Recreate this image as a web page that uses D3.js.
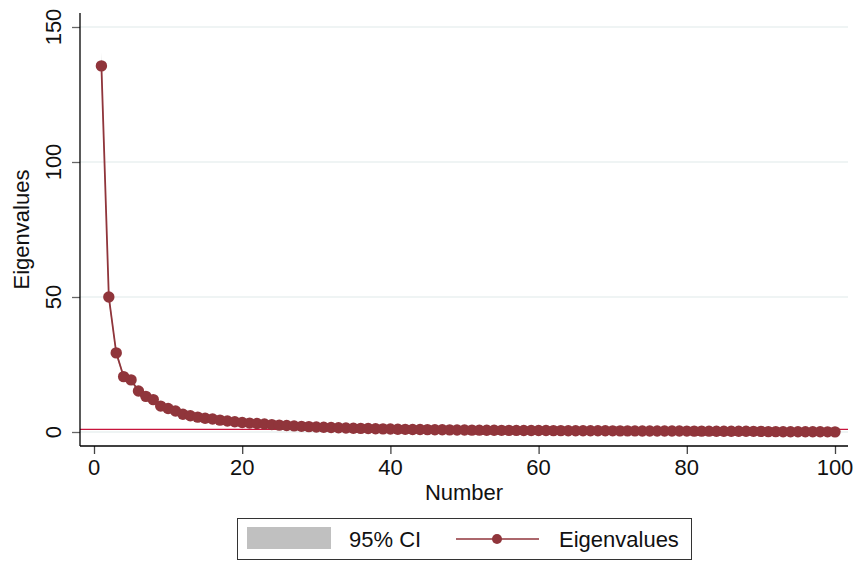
<!DOCTYPE html>
<html>
<head>
<meta charset="utf-8">
<script src="https://cdn.jsdelivr.net/npm/d3@7"></script>
<style>
  html, body { margin: 0; padding: 0; background: #fff; }
  svg { display: block; font-family: "Liberation Sans", Arial, sans-serif; }
</style>
</head>
<body>
<svg id="chart" width="858" height="563"></svg>
<script>
// Scree plot: eigenvalues by component number, with 95% CI band
const eigenvalues = [
  135.6, 50.0, 29.3, 20.5, 19.3, 15.2, 13.2, 12.0, 9.6, 8.7,
  7.8, 6.6, 6.0, 5.5, 5.1, 4.8, 4.4, 4.1, 3.8, 3.5,
  3.3, 3.15, 2.95, 2.75, 2.55, 2.4, 2.25, 2.1, 1.98, 1.86,
  1.76, 1.66, 1.57, 1.49, 1.41, 1.34, 1.27, 1.21, 1.15, 1.09,
  1.04, 0.99, 0.95, 0.91, 0.87, 0.84, 0.81, 0.78, 0.75, 0.72,
  0.70, 0.68, 0.66, 0.64, 0.62, 0.60, 0.59, 0.57, 0.56, 0.54,
  0.53, 0.52, 0.50, 0.49, 0.48, 0.47, 0.46, 0.45, 0.44, 0.43,
  0.42, 0.41, 0.40, 0.39, 0.38, 0.37, 0.36, 0.36, 0.35, 0.34,
  0.33, 0.32, 0.31, 0.30, 0.29, 0.28, 0.27, 0.26, 0.25, 0.24,
  0.14, 0.13, 0.12, 0.11, 0.10, 0.09, 0.08, 0.07, 0.06, 0.05
];
const ciHigh = [
  140.70, 51.88, 30.40, 21.27, 20.03, 15.77, 13.70, 12.45, 9.96, 9.03,
  8.09, 6.85, 6.23, 5.71, 5.29, 4.98, 4.57, 4.25, 3.94, 3.63,
  3.42, 3.27, 3.06, 2.85, 2.65, 2.49, 2.33, 2.18, 2.05, 1.93,
  1.83, 1.72, 1.63, 1.55, 1.46, 1.39, 1.32, 1.26, 1.19, 1.13,
  1.08, 1.03, 0.99, 0.94, 0.90, 0.87, 0.84, 0.81, 0.78, 0.75,
  0.73, 0.71, 0.68, 0.66, 0.64, 0.62, 0.61, 0.59, 0.58, 0.56,
  0.55, 0.54, 0.52, 0.51, 0.50, 0.49, 0.48, 0.47, 0.46, 0.45,
  0.44, 0.43, 0.42, 0.40, 0.39, 0.38, 0.37, 0.37, 0.36, 0.35,
  0.34, 0.33, 0.32, 0.31, 0.30, 0.29, 0.28, 0.27, 0.26, 0.25,
  0.15, 0.13, 0.12, 0.11, 0.10, 0.09, 0.08, 0.07, 0.06, 0.05
];
const ciLow = [
  130.85, 48.25, 28.27, 19.78, 18.62, 14.67, 12.74, 11.58, 9.26, 8.40,
  7.53, 6.37, 5.79, 5.31, 4.92, 4.63, 4.25, 3.96, 3.67, 3.38,
  3.18, 3.04, 2.85, 2.65, 2.46, 2.32, 2.17, 2.03, 1.91, 1.79,
  1.70, 1.60, 1.52, 1.44, 1.36, 1.29, 1.23, 1.17, 1.11, 1.05,
  1.00, 0.96, 0.92, 0.88, 0.84, 0.81, 0.78, 0.75, 0.72, 0.69,
  0.68, 0.66, 0.64, 0.62, 0.60, 0.58, 0.57, 0.55, 0.54, 0.52,
  0.51, 0.50, 0.48, 0.47, 0.46, 0.45, 0.44, 0.43, 0.42, 0.41,
  0.41, 0.40, 0.39, 0.38, 0.37, 0.36, 0.35, 0.35, 0.34, 0.33,
  0.32, 0.31, 0.30, 0.29, 0.28, 0.27, 0.26, 0.25, 0.24, 0.23,
  0.14, 0.13, 0.12, 0.11, 0.10, 0.09, 0.08, 0.07, 0.06, 0.05
];
const xTicks = [0, 20, 40, 60, 80, 100];
const yTicks = [0, 50, 100, 150];
const refValue = 1;
const legendLabels = ["95% CI", "Eigenvalues"];

const colSeries = "#90353b";
const colCI = "#c0c0c0";
const colRef = "#c8143c";
const colGrid = "#eaf0f0";
const fontSize = 22;

const svg = d3.select("#chart");

const x = d3.scaleLinear().domain([0, 100]).range([94, 835]);
const y = d3.scaleLinear().domain([0, 150]).range([432, 27]);

const plotLeft = 80, plotRight = 848, plotTop = 13, plotBottom = 446;

const data = eigenvalues.map((v, i) => ({
  n: i + 1, v: v, lo: ciLow[i], hi: ciHigh[i]
}));

// grid lines
svg.append("g").selectAll("line").data(yTicks).join("line")
  .attr("x1", plotLeft).attr("x2", plotRight)
  .attr("y1", d => y(d)).attr("y2", d => y(d))
  .attr("stroke", colGrid).attr("stroke-width", 1.3);

// confidence band
svg.append("path").datum(data)
  .attr("d", d3.area().x(d => x(d.n)).y0(d => y(d.lo)).y1(d => y(d.hi)))
  .attr("fill", colCI);

// reference line at eigenvalue = 1
svg.append("line")
  .attr("x1", plotLeft).attr("x2", plotRight)
  .attr("y1", y(refValue)).attr("y2", y(refValue))
  .attr("stroke", colRef).attr("stroke-width", 1.2);

// eigenvalue line and markers
svg.append("path").datum(data)
  .attr("d", d3.line().x(d => x(d.n)).y(d => y(d.v)))
  .attr("fill", "none").attr("stroke", colSeries).attr("stroke-width", 1.8);

svg.append("g").selectAll("circle").data(data).join("circle")
  .attr("cx", d => x(d.n)).attr("cy", d => y(d.v)).attr("r", 5.7)
  .attr("fill", colSeries);

// axes
const yAxis = svg.append("g").attr("transform", `translate(${plotLeft},0)`)
  .call(d3.axisLeft(y).tickValues(yTicks).tickSize(8).tickFormat(""));
yAxis.select(".domain").remove();
yAxis.selectAll(".tick line").attr("stroke", "#666").attr("stroke-width", 1.3);
svg.append("line").attr("x1", plotLeft).attr("x2", plotLeft)
  .attr("y1", plotTop).attr("y2", plotBottom)
  .attr("stroke", "#000").attr("stroke-width", 1.3);

svg.append("g").selectAll("text").data(yTicks).join("text")
  .attr("transform", d => `translate(61,${y(d)}) rotate(-90)`)
  .attr("text-anchor", "middle")
  .attr("font-size", fontSize).attr("fill", "#111")
  .text(d => d);

const xAxis = svg.append("g").attr("transform", `translate(0,${plotBottom})`)
  .call(d3.axisBottom(x).tickValues(xTicks).tickSize(8).tickFormat(""));
xAxis.select(".domain").remove();
xAxis.selectAll(".tick line").attr("stroke", "#444").attr("stroke-width", 1.3);
svg.append("line").attr("x1", plotLeft).attr("x2", plotRight)
  .attr("y1", plotBottom).attr("y2", plotBottom)
  .attr("stroke", "#000").attr("stroke-width", 1.3);

svg.append("g").selectAll("text").data(xTicks).join("text")
  .attr("x", d => x(d)).attr("y", 475)
  .attr("text-anchor", "middle")
  .attr("font-size", fontSize).attr("fill", "#111")
  .text(d => d);

// axis titles
svg.append("text").attr("x", (plotLeft + plotRight) / 2).attr("y", 500)
  .attr("text-anchor", "middle").attr("font-size", fontSize).attr("fill", "#111")
  .text("Number");
svg.append("text")
  .attr("transform", `translate(29,${(plotTop + plotBottom) / 2}) rotate(-90)`)
  .attr("text-anchor", "middle").attr("font-size", fontSize).attr("fill", "#111")
  .text("Eigenvalues");

// legend
const lg = svg.append("g");
lg.append("rect").attr("x", 237.5).attr("y", 518.5).attr("width", 454).attr("height", 41)
  .attr("fill", "#fff").attr("stroke", "#333").attr("stroke-width", 1);
lg.append("rect").attr("x", 247).attr("y", 527).attr("width", 84).attr("height", 22)
  .attr("fill", colCI);
lg.append("text").attr("x", 349).attr("y", 547).attr("font-size", fontSize).attr("fill", "#111")
  .text(legendLabels[0]);
lg.append("line").attr("x1", 456).attr("x2", 539).attr("y1", 539).attr("y2", 539)
  .attr("stroke", colSeries).attr("stroke-width", 1.6);
lg.append("circle").attr("cx", 497).attr("cy", 539).attr("r", 5)
  .attr("fill", colSeries);
lg.append("text").attr("x", 559).attr("y", 547).attr("font-size", fontSize).attr("fill", "#111")
  .text(legendLabels[1]);
</script>
</body>
</html>
